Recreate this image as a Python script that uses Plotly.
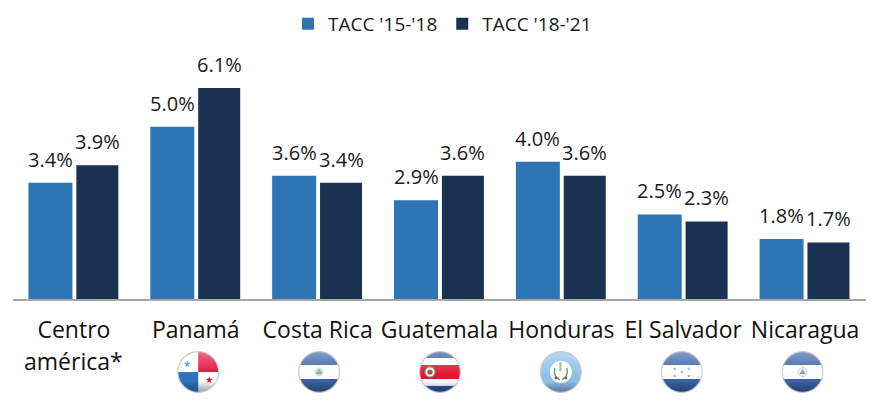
import base64
import math
import plotly.graph_objects as go

categories = ["Centroamérica*", "Panamá", "Costa Rica", "Guatemala", "Honduras", "El Salvador", "Nicaragua"]
tick_labels = ["Centro", "Panamá", "Costa Rica", "Guatemala", "Honduras", "El Salvador", "Nicaragua"]
tacc_15_18 = [3.4, 5.0, 3.6, 2.9, 4.0, 2.5, 1.8]
tacc_18_21 = [3.9, 6.1, 3.4, 3.6, 3.6, 2.3, 1.7]
series_names = ["TACC '15-'18", "TACC '18-'21"]

W, H = 885, 404
LEFT, RIGHT, TOP, BOTTOM = 13, 19, 60, 105
FONT = "Open Sans"
C1, C2 = "#2e75b6", "#1a3152"
STEP = (W - LEFT - RIGHT) / 7

def star(cx, cy, r, fill):
    pts = []
    for k in range(10):
        rr = r if k % 2 == 0 else r * 0.42
        a = -math.pi / 2 + k * math.pi / 5
        pts.append(f"{cx + rr * math.cos(a):.2f},{cy + rr * math.sin(a):.2f}")
    return f'<polygon points="{" ".join(pts)}" fill="{fill}"/>'

def tribar(top, mid, bot, extra=""):
    return (f'<rect width="42" height="14" fill="{top}"/><rect y="14" width="42" height="14" fill="{mid}"/>'
            f'<rect y="28" width="42" height="14" fill="{bot}"/>{extra}')

BLUE = "#3a62a5"
panama = ('<rect width="42" height="42" fill="#fff"/><rect x="21" width="21" height="21" fill="#e0123a"/>'
          '<rect y="21" width="21" height="21" fill="#2f72bd"/>'
          + star(10, 13, 3.6, "#5b8fd6") + star(32, 29, 3.6, "#d8183c"))
salvador = tribar(BLUE, "#fff", BLUE,
                  '<circle cx="21" cy="21" r="4.4" fill="#cfe5d2"/><polygon points="21,17.5 24.5,23 17.5,23" fill="#7fb98a"/>')
costa = ('<rect width="42" height="42" fill="#2f55a4"/><rect y="7" width="42" height="28" fill="#fff"/>'
         '<rect y="14" width="42" height="14" fill="#e3122f"/>'
         '<circle cx="11" cy="21" r="5.2" fill="#f3f3f3" stroke="#5b8f6a" stroke-width="1.2"/><circle cx="11" cy="21" r="2.6" fill="#b4473f"/>')
guate = ('<rect width="42" height="42" fill="#8fc1ea"/><circle cx="21" cy="21" r="11" fill="#fff"/>'
         '<path d="M15 17 Q13 25 20 29 M27 17 Q29 25 22 29" fill="none" stroke="#4f9a58" stroke-width="1.4"/>'
         '<rect x="19.5" y="11" width="2" height="9" fill="#9bb36b"/><circle cx="16" cy="27" r="1.4" fill="#c8384a"/><circle cx="26" cy="27" r="1.4" fill="#c8384a"/>')
hond = tribar(BLUE, "#fff", BLUE,
              "".join(star(x, y, 1.9, "#8fb4dd") for x, y in [(14, 18), (28, 18), (21, 21), (14, 25), (28, 25)]))
nica = tribar(BLUE, "#fff", BLUE,
              '<circle cx="21" cy="21" r="4.4" fill="#f4f1dd" stroke="#b9c7d6" stroke-width=".8"/><polygon points="21,18 24,23 18,23" fill="#6f9fc8"/>')
flags = [panama, salvador, costa, guate, hond, nica]

def flag_uri(body):
    svg = ('<svg xmlns="http://www.w3.org/2000/svg" width="168" height="168" viewBox="0 0 42 42">'
           '<defs><clipPath id="c"><circle cx="21" cy="21" r="20.4"/></clipPath>'
           '<linearGradient id="g" x1="0" y1="0" x2="0" y2="1">'
           '<stop offset="0" stop-color="#fff" stop-opacity=".38"/><stop offset=".5" stop-color="#fff" stop-opacity=".05"/>'
           '<stop offset=".72" stop-color="#000" stop-opacity="0"/><stop offset="1" stop-color="#001a44" stop-opacity=".45"/></linearGradient>'
           '</defs>'
           f'<g clip-path="url(#c)">{body}<rect width="42" height="42" fill="url(#g)"/></g>'
           '<circle cx="21" cy="21" r="20.4" fill="none" stroke="#c9c9c9" stroke-width="1.2"/></svg>')
    return "data:image/svg+xml;base64," + base64.b64encode(svg.encode()).decode()

idx = list(range(len(categories)))
fig = go.Figure()
fig.add_bar(x=idx, y=tacc_15_18, name=series_names[0], marker_color=C1, marker_line_width=0,
            width=44 / STEP, offset=-45.5 / STEP)
fig.add_bar(x=idx, y=tacc_18_21, name=series_names[1], marker_color=C2, marker_line_width=0,
            width=42 / STEP, offset=2.4 / STEP)

annots = []
for i in idx:
    for off, vals in ((-23.5 / STEP, tacc_15_18), (23.4 / STEP, tacc_18_21)):
        annots.append(dict(x=i + off, y=vals[i], text=f"{vals[i]:.1f}%", showarrow=False, xref="x", yref="y",
                           yanchor="bottom", yshift=8, font=dict(family=FONT, size=20, color="#1a1a1a")))
annots.append(dict(x=0, xref="x", y=0, yref="paper", yanchor="middle", yshift=-62, text="américa*", showarrow=False,
                   font=dict(family=FONT, size=23, color="#111111")))

plot_h = H - TOP - BOTTOM
images = []
for i, body in enumerate(flags, start=1):
    images.append(dict(source=flag_uri(body), xref="x", x=i + 0.028 - 0.008 * i, yref="paper",
                       y=(H - BOTTOM - 372) / plot_h, sizex=42 / STEP, sizey=42 / plot_h,
                       xanchor="center", yanchor="middle", sizing="stretch", layer="above"))

fig.update_layout(
    width=W, height=H, margin=dict(l=LEFT, r=RIGHT, t=TOP, b=BOTTOM, pad=0),
    paper_bgcolor="white", plot_bgcolor="white", barmode="overlay",
    font=dict(family=FONT, color="#111111"), showlegend=True,
    legend=dict(orientation="h", x=0.5, xref="container", xanchor="center", y=0.988, yref="container", yanchor="top",
                font=dict(family=FONT, size=19, color="#1a1a1a"), traceorder="normal", itemclick=False),
    annotations=annots, images=images,
    xaxis=dict(range=[-0.5, len(idx) - 0.5], tickmode="array", tickvals=idx, ticktext=tick_labels,
               tickfont=dict(family=FONT, size=23, color="#111111"), ticks="outside", ticklen=9, tickcolor="rgba(0,0,0,0)",
               showline=True, linecolor="#a6a6a6", linewidth=2, showgrid=False, zeroline=False),
    yaxis=dict(range=[0.09, 0.09 + plot_h / 35.1], visible=False, showgrid=False, zeroline=False),
)
fig.write_html("out.html", config=dict(displayModeBar=False),
               post_script="document.body.style.margin='0';document.body.style.overflow='hidden';")
